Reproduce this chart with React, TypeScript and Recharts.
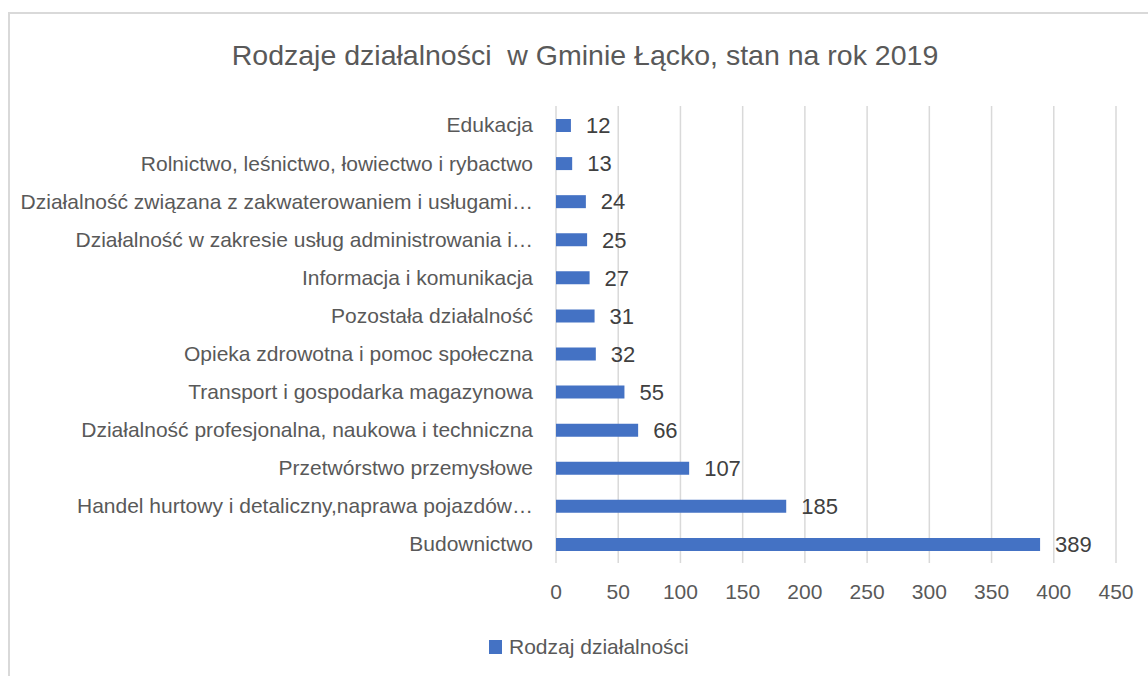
import { BarChart, Bar, XAxis, YAxis, CartesianGrid, LabelList } from "recharts";

const categories = [
  "Edukacja",
  "Rolnictwo, leśnictwo, łowiectwo i rybactwo",
  "Działalność związana z zakwaterowaniem i usługami…",
  "Działalność w zakresie usług administrowania i…",
  "Informacja i komunikacja",
  "Pozostała działalność",
  "Opieka zdrowotna i pomoc społeczna",
  "Transport i gospodarka magazynowa",
  "Działalność profesjonalna, naukowa i techniczna",
  "Przetwórstwo przemysłowe",
  "Handel hurtowy i detaliczny,naprawa pojazdów…",
  "Budownictwo",
];

const counts = [12, 13, 24, 25, 27, 31, 32, 55, 66, 107, 185, 389];

const xTicks = [0, 50, 100, 150, 200, 250, 300, 350, 400, 450];

const seriesName = "Rodzaj działalności";
const title = "Rodzaje działalności  w Gminie Łącko, stan na rok 2019";

const data = categories.map((name, i) => ({ name, value: counts[i] }));

const font = "'Liberation Sans', Arial, sans-serif";

export default function App() {
  return (
    <div style={{ position: "relative", width: 1148, height: 676, overflow: "hidden", background: "#fff", fontFamily: font }}>
      <style>{"body{margin:0}"}</style>
      <div
        style={{
          position: "absolute",
          left: 8,
          top: 12,
          width: 1200,
          height: 720,
          border: "2px solid #d9d9d9",
        }}
      />
      <div
        style={{
          position: "absolute",
          top: 39,
          left: 0,
          width: 1170,
          textAlign: "center",
          fontSize: 28.5,
          color: "#595959",
          whiteSpace: "pre",
          lineHeight: "normal",
        }}
      >
        {title}
      </div>
      <div style={{ position: "absolute", left: 0, top: 0 }}>
        <BarChart
          width={1148}
          height={676}
          data={data}
          layout="vertical"
          margin={{ top: 106, right: 32, bottom: 83, left: 0 }}
        >
          <CartesianGrid horizontal={false} stroke="#d9d9d9" strokeWidth={1.5} />
          <XAxis
            type="number"
            domain={[0, 450]}
            ticks={xTicks}
            axisLine={false}
            tickLine={false}
            tickMargin={15}
            height={30}
            tick={{ fill: "#595959", fontSize: 21, fontFamily: font }}
          />
          <YAxis
            type="category"
            dataKey="name"
            width={556}
            axisLine={false}
            tickLine={false}
            tickMargin={17}
            interval={0}
            tick={{ fill: "#595959", fontSize: 21, fontFamily: font }}
          />
          <Bar dataKey="value" name={seriesName} fill="#4472c4" barSize={13} isAnimationActive={false}>
            <LabelList
              dataKey="value"
              position="right"
              offset={15}
              style={{ fill: "#404040", fontSize: 22, fontFamily: font }}
            />
          </Bar>
        </BarChart>
      </div>
      <div
        style={{
          position: "absolute",
          left: 489,
          top: 635,
          display: "flex",
          alignItems: "center",
          fontSize: 21,
          color: "#595959",
        }}
      >
        <span style={{ display: "inline-block", width: 13, height: 14, background: "#4472c4", marginRight: 7 }} />
        <span>{seriesName}</span>
      </div>
    </div>
  );
}
